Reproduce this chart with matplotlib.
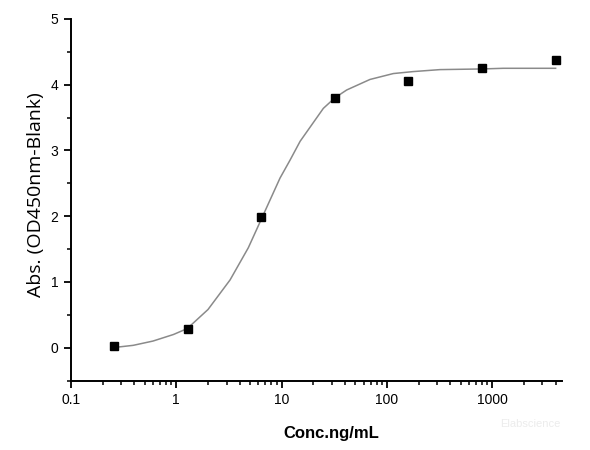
import matplotlib
matplotlib.use("Agg")
import matplotlib.pyplot as plt
from matplotlib.ticker import LogLocator, FixedLocator, NullFormatter, MultipleLocator

# measured points
conc = [0.256, 1.28, 6.4, 32, 160, 800, 4000]
absorb = [0.03, 0.29, 1.98, 3.80, 4.05, 4.25, 4.38]

# fitted curve
curve_x = [0.25, 0.39, 0.6, 0.94, 1.27, 2.0, 3.24, 4.83, 6.4, 9.66, 12.0, 15.0,
           24.9, 32, 41.5, 69, 115, 178, 319, 800, 1275, 4000]
curve_y = [0.0, 0.035, 0.10, 0.20, 0.29, 0.58, 1.03, 1.52, 1.95, 2.58, 2.85, 3.14,
           3.64, 3.80, 3.92, 4.08, 4.17, 4.20, 4.23, 4.24, 4.25, 4.25]

x_ticks = [0.1, 1, 10, 100, 1000]
x_tick_labels = ["0.1", "1", "10", "100", "1000"]
y_ticks = [0, 1, 2, 3, 4, 5]

plt.rcParams['font.family'] = ['Liberation Sans', 'DejaVu Sans']

fig = plt.figure(figsize=(5.9, 4.5), dpi=100)
ax = fig.add_axes([71/590, 1-380.5/450, (562-71)/590, (380.5-19)/450])

ax.plot(curve_x, curve_y, color='#8a8a8a', lw=1.1, zorder=2)
ax.plot(conc, absorb, linestyle='none', marker='s', markersize=5.5,
        color='black', zorder=3)

ax.set_xscale('log')
ax.set_xlim(0.1, 4600)
ax.set_ylim(-0.5, 5)

ax.xaxis.set_major_locator(FixedLocator(x_ticks))
ax.set_xticklabels(x_tick_labels)
ax.xaxis.set_minor_locator(LogLocator(base=10, subs=range(2, 10), numticks=20))
ax.xaxis.set_minor_formatter(NullFormatter())
ax.set_yticks(y_ticks)
ax.yaxis.set_minor_locator(MultipleLocator(0.5))

for s in ['top', 'right']:
    ax.spines[s].set_visible(False)
for s in ['left', 'bottom']:
    ax.spines[s].set_linewidth(1.4)
    ax.spines[s].set_color('black')

ax.tick_params(which='major', direction='out', length=5, width=1.3,
               labelsize=10, pad=4, colors='black')
ax.tick_params(which='minor', direction='out', length=3, width=1.1, colors='black')

fig.text(331.5/590, 1-438/450, "Conc.ng/mL", fontsize=12, fontweight='bold',
         ha='center', va='baseline')
fig.text(36.5/590, 1-195/450, "Abs. (OD450nm-Blank)", fontsize=14, rotation=90,
         ha='center', va='center', family=['Open Sans', 'DejaVu Sans'])

fig.text(530/590, 1-424/450, "Elabscience", color='#ececec', fontsize=8,
         ha='center', va='center')

fig.savefig("out.png", dpi=100)
